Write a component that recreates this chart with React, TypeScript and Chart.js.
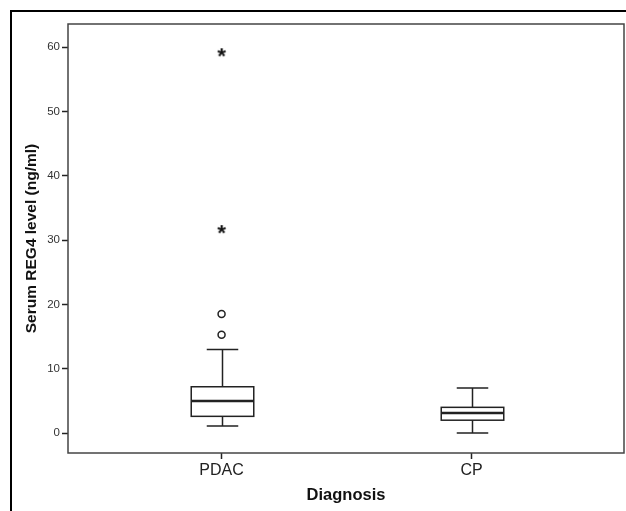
import React, { useEffect, useRef } from "react";
import { Chart, registerables } from "chart.js";

Chart.register(...registerables);

const categories = ["PDAC", "CP"];
const whiskerLow = [1.1, 0.0];
const q1 = [2.6, 2.0];
const median = [5.0, 3.1];
const q3 = [7.2, 4.0];
const whiskerHigh = [13.0, 7.0];
const outlierCategory = [0, 0];
const outlierValues = [15.3, 18.5];
const extremeCategory = [0, 0];
const extremeValues = [31.7, 59.2];
const yTicks = [0, 10, 20, 30, 40, 50, 60];

const FONT = "'Liberation Sans', Arial, Helvetica, sans-serif";

const boxPlugin = {
  id: "boxes",
  beforeDatasetsDraw(chart: any) {
    const { ctx, scales } = chart;
    const xs = scales.x;
    const ys = scales.y;
    const unit = xs.getPixelForValue(2) - xs.getPixelForValue(1);
    const boxHalf = unit * 0.125;
    const capHalf = unit * 0.063;
    ctx.save();
    ctx.strokeStyle = "#222";
    ctx.lineCap = "butt";
    categories.forEach((_, i) => {
      const cx = Math.round(xs.getPixelForValue(i + 1)) + 0.5;
      const yLo = ys.getPixelForValue(whiskerLow[i]);
      const yQ1 = ys.getPixelForValue(q1[i]);
      const yMed = ys.getPixelForValue(median[i]);
      const yQ3 = ys.getPixelForValue(q3[i]);
      const yHi = ys.getPixelForValue(whiskerHigh[i]);
      ctx.lineWidth = 1.5;
      ctx.beginPath();
      ctx.moveTo(cx, yHi);
      ctx.lineTo(cx, yQ3);
      ctx.moveTo(cx, yQ1);
      ctx.lineTo(cx, yLo);
      ctx.moveTo(cx - capHalf, yHi);
      ctx.lineTo(cx + capHalf, yHi);
      ctx.moveTo(cx - capHalf, yLo);
      ctx.lineTo(cx + capHalf, yLo);
      ctx.stroke();
      ctx.fillStyle = "#fff";
      ctx.fillRect(cx - boxHalf, yQ3, boxHalf * 2, yQ1 - yQ3);
      ctx.strokeRect(cx - boxHalf, yQ3, boxHalf * 2, yQ1 - yQ3);
      ctx.lineWidth = 2.5;
      ctx.beginPath();
      ctx.moveTo(cx - boxHalf, yMed);
      ctx.lineTo(cx + boxHalf, yMed);
      ctx.stroke();
    });
    ctx.restore();
  },
  afterDraw(chart: any) {
    const { ctx, chartArea } = chart;
    ctx.save();
    ctx.strokeStyle = "#444";
    ctx.lineWidth = 1.5;
    ctx.strokeRect(chartArea.left, chartArea.top, chartArea.right - chartArea.left, chartArea.bottom - chartArea.top);
    ctx.restore();
  },
};

export default function App() {
  const ref = useRef<HTMLCanvasElement | null>(null);
  useEffect(() => {
    if (!ref.current) return;
    const star = document.createElement("canvas");
    star.width = 18;
    star.height = 18;
    const sctx = star.getContext("2d")!;
    sctx.fillStyle = "#111";
    sctx.font = "bold 22px " + FONT;
    sctx.textAlign = "center";
    sctx.textBaseline = "middle";
    sctx.fillText("*", 9, 13.5);

    const chart = new Chart(ref.current, {
      type: "scatter",
      data: {
        datasets: [
          {
            data: outlierValues.map((v, i) => ({ x: outlierCategory[i] + 1, y: v })),
            pointStyle: "circle",
            radius: 3.5,
            borderWidth: 1.5,
            borderColor: "#222",
            backgroundColor: "#fff",
          },
          {
            data: extremeValues.map((v, i) => ({ x: extremeCategory[i] + 1, y: v })),
            pointStyle: star as any,
            radius: 6,
          },
        ],
      },
      plugins: [boxPlugin],
      options: {
        animation: false,
        responsive: false,
        devicePixelRatio: 1,
        layout: { autoPadding: false, padding: { top: 24, right: 2, left: 0, bottom: 0 } },
        plugins: { legend: { display: false }, tooltip: { enabled: false } },
        scales: {
          x: {
            type: "linear",
            min: 0.386,
            max: 2.609,
            afterFit: (s: any) => {
              s.height = 58;
              s.paddingRight = 0;
              s.paddingLeft = 0;
            },
            afterBuildTicks: (s: any) => {
              s.ticks = categories.map((_, i) => ({ value: i + 1 }));
            },
            grid: { drawOnChartArea: false, drawTicks: true, tickLength: 6, tickColor: "#222", tickWidth: 1.5 },
            border: { display: false },
            ticks: {
              padding: 2,
              color: "#222",
              font: { family: FONT, size: 16 },
              callback: (v: any) => categories[Number(v) - 1] ?? "",
              maxRotation: 0,
            },
            title: {
              display: true,
              text: "Diagnosis",
              color: "#111",
              font: { family: FONT, size: 16.5, weight: "bold" },
              padding: { top: 0, bottom: 6 },
            },
          },
          y: {
            type: "linear",
            min: -3.1,
            max: 63.6,
            afterFit: (s: any) => {
              s.width = 68;
            },
            afterBuildTicks: (s: any) => {
              s.ticks = yTicks.map((v) => ({ value: v }));
            },
            grid: { drawOnChartArea: false, drawTicks: true, tickLength: 6, tickColor: "#222", tickWidth: 1.5 },
            border: { display: false },
            ticks: {
              padding: 2,
              color: "#333",
              font: { family: FONT, size: 11.5 },
            },
            title: {
              display: true,
              text: "Serum REG4 level (ng/ml)",
              color: "#111",
              font: { family: FONT, size: 15.5, weight: "bold" },
              padding: { top: 22.5, bottom: 0 },
            },
          },
        },
      },
    });
    return () => chart.destroy();
  }, []);

  return (
    <div style={{ position: "fixed", left: 0, top: 0, width: 626, height: 511, overflow: "hidden", background: "#fff" }}>
      <canvas ref={ref} width={626} height={511} style={{ position: "absolute", left: 0, top: 0 }} />
      <div
        style={{
          position: "absolute",
          left: 10,
          top: 10,
          width: 640,
          height: 520,
          borderTop: "2px solid #000",
          borderLeft: "2px solid #000",
          pointerEvents: "none",
        }}
      />
    </div>
  );
}
